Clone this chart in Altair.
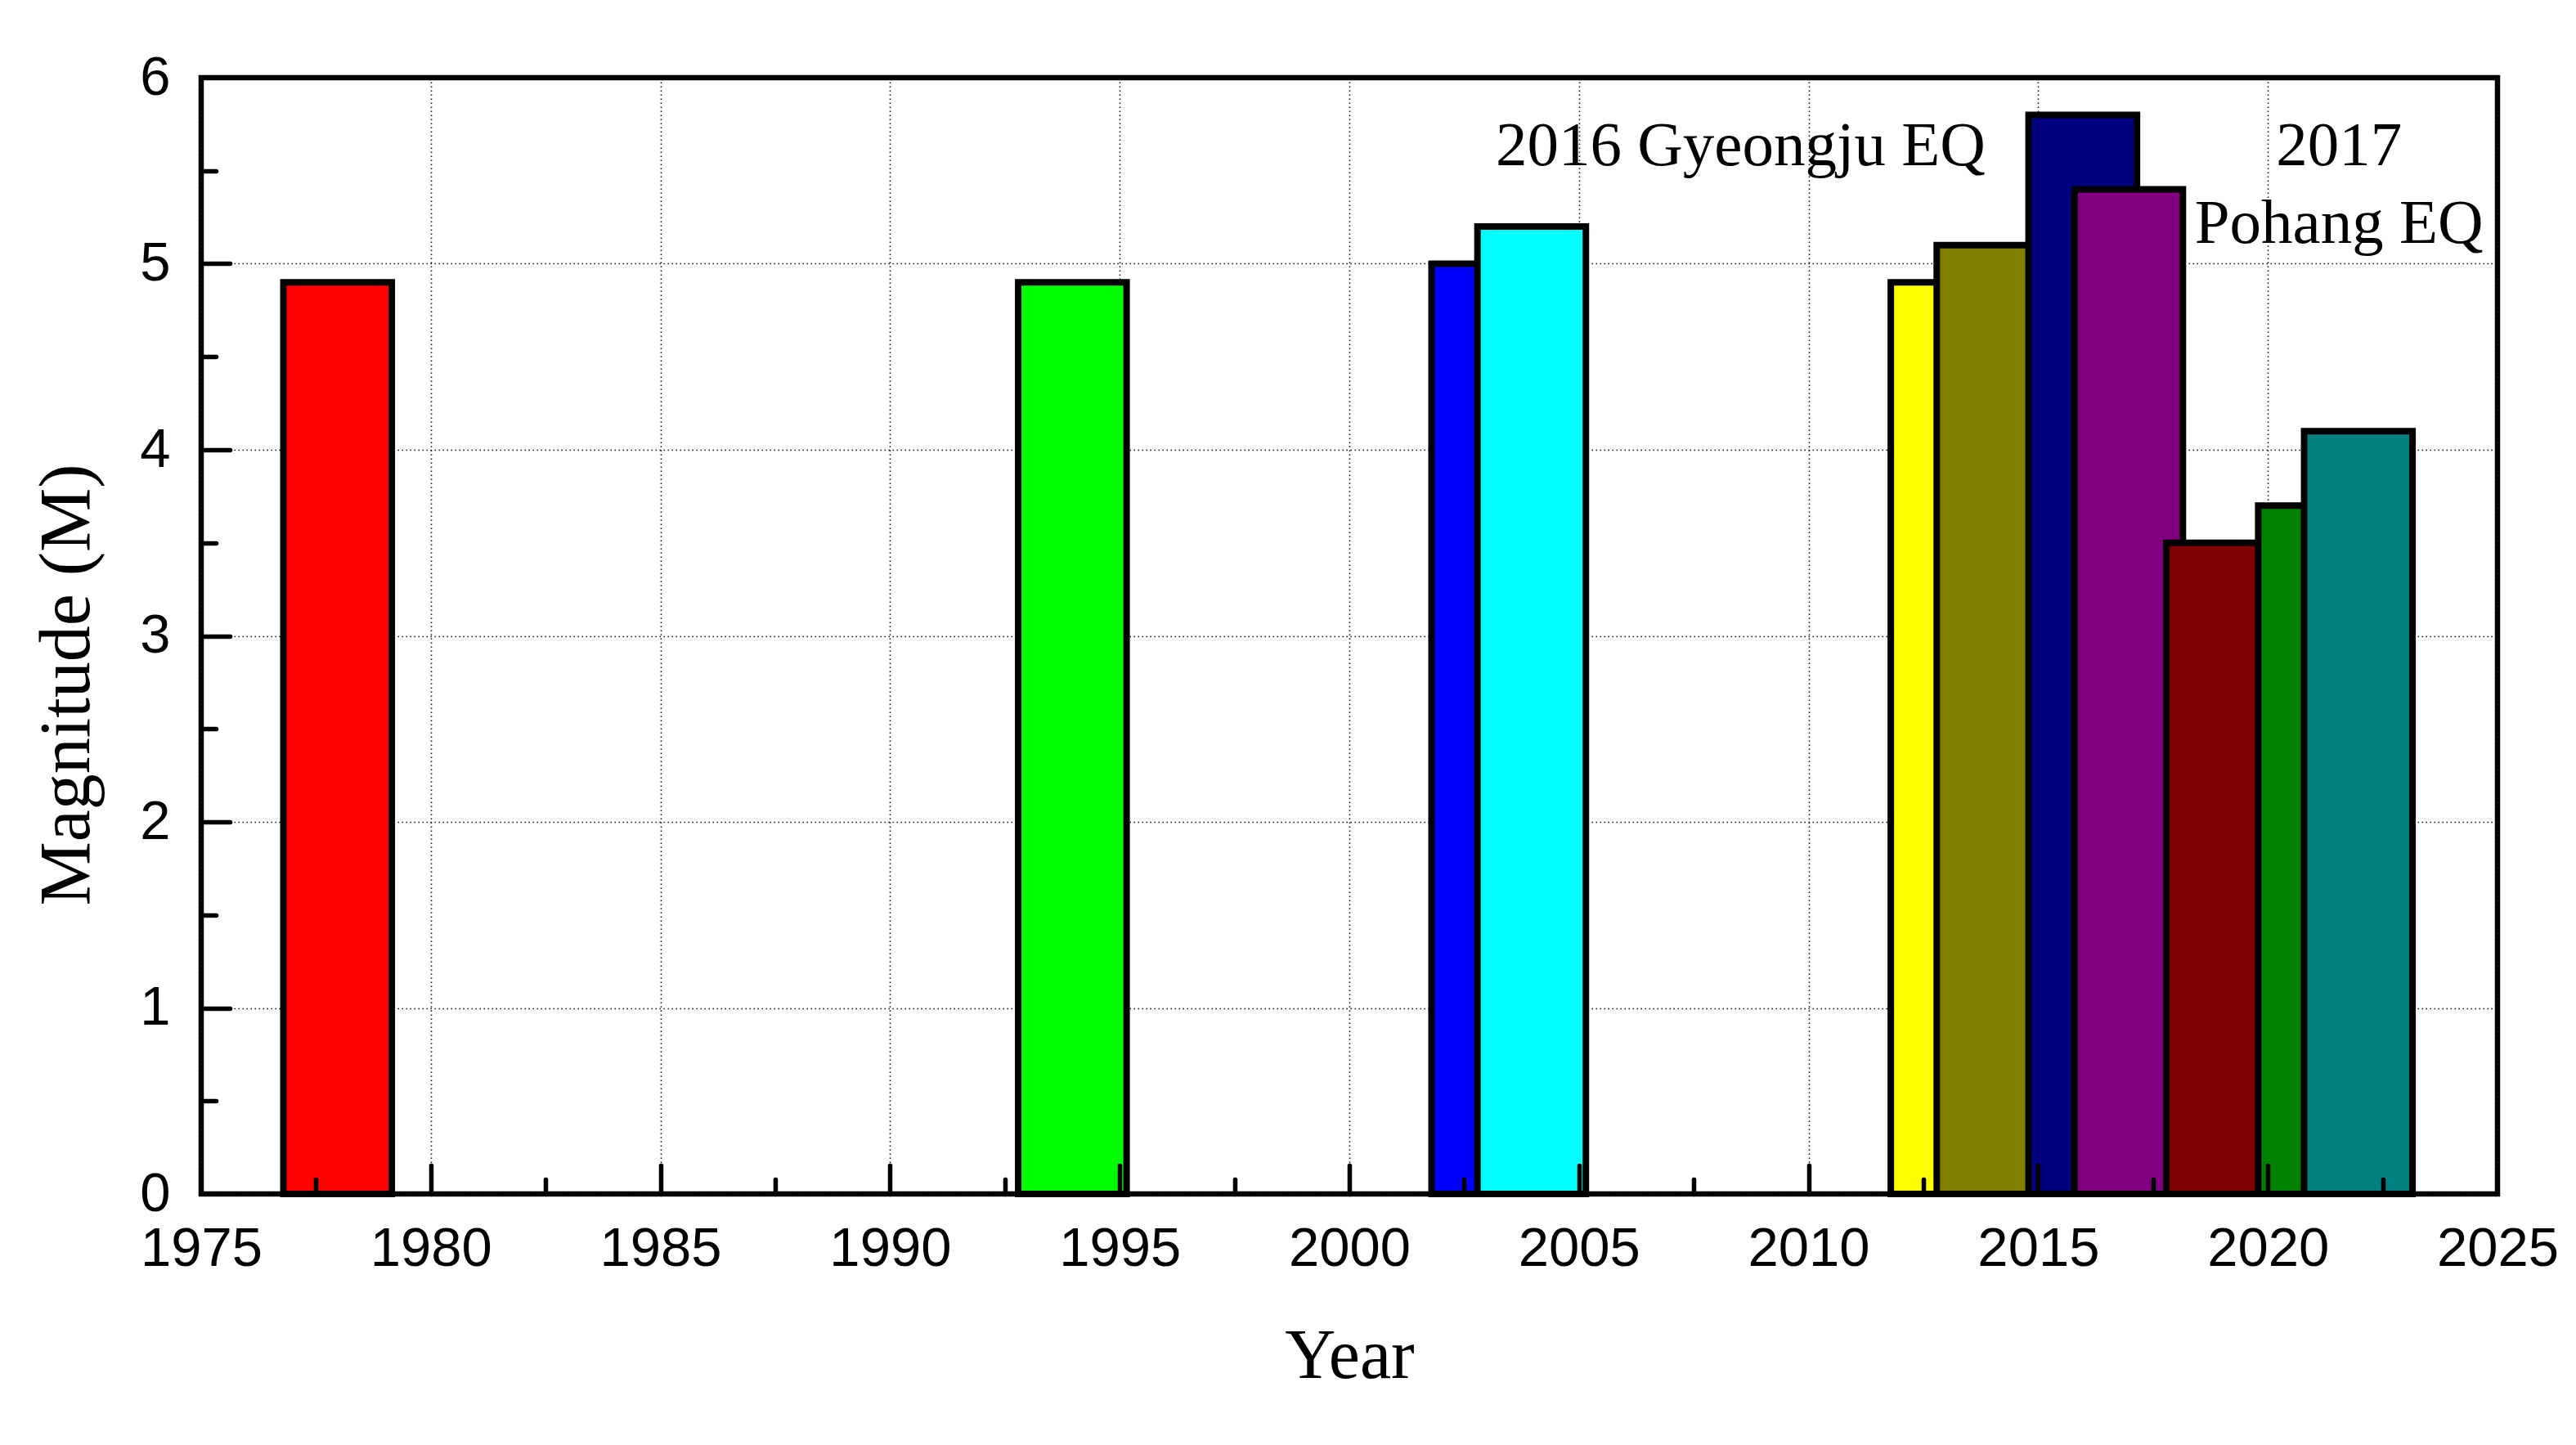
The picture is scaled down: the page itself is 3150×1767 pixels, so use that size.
import altair as alt
import pandas as pd

# ---- data ----
years = [1978, 1994, 2003, 2004, 2013, 2014, 2016, 2017, 2019, 2021, 2022]
magnitudes = [4.9, 4.9, 5.0, 5.2, 4.9, 5.1, 5.8, 5.4, 3.5, 3.7, 4.1]
bar_colors = ["#FF0000", "#00FF00", "#0000FF", "#00FFFF", "#FFFF00", "#808000",
              "#000080", "#800080", "#800000", "#008000", "#008080"]

x_major = [1975, 1980, 1985, 1990, 1995, 2000, 2005, 2010, 2015, 2020, 2025]
x_major_ticks = [1980, 1985, 1990, 1995, 2000, 2005, 2010, 2015, 2020]
x_minor_ticks = [1977.5, 1982.5, 1987.5, 1992.5, 1997.5, 2002.5, 2007.5, 2012.5, 2017.5, 2022.5]
y_major = [0, 1, 2, 3, 4, 5, 6]
y_major_ticks = [1, 2, 3, 4, 5]
y_minor_ticks = [0.5, 1.5, 2.5, 3.5, 4.5, 5.5]

ann_text = ["2016 Gyeongju EQ", "2017", "Pohang EQ"]
ann_x = [2013.85, 2021.55, 2021.55]
ann_y = [5.53, 5.53, 5.11]
ann_align = ["right", "center", "center"]

bars = pd.DataFrame({"year": years, "mag": magnitudes,
                     "id": [f"b{i}" for i in range(len(years))]})
ann = pd.DataFrame({"text": ann_text, "x": ann_x, "y": ann_y, "align": ann_align})

W, H = 2808, 1365
xscale = alt.Scale(domain=[1975, 2025], nice=False, zero=False)
yscale = alt.Scale(domain=[0, 6], nice=False)

SANS = "Liberation Sans"
SERIF = "Liberation Serif"

label_x_axis = alt.Axis(orient="bottom", values=x_major, format="d", ticks=False, domain=False,
                        grid=True, gridDash=[1.5, 3.5], gridColor="#111", gridWidth=1.6,
                        labelFont=SANS, labelFontSize=67, labelColor="black", labelPadding=34,
                        labelFlush=False, labelOverlap=False,
                        title="Year", titleFont=SERIF, titleFontSize=86, titleFontWeight="normal",
                        titleColor="black", titleBaseline="alphabetic", titleY=224, zindex=0)
label_y_axis = alt.Axis(orient="left", values=y_major, format="d", ticks=False, domain=False,
                        grid=True, gridDash=[1.5, 3.5], gridColor="#111", gridWidth=1.6,
                        labelFont=SANS, labelFontSize=67, labelColor="black", labelPadding=38,
                        labelFlush=False, labelOverlap=False,
                        title="Magnitude (M)", titleFont=SERIF, titleFontSize=88,
                        titleFontWeight="normal", titleColor="black", titleBaseline="alphabetic",
                        titleAngle=270, titleAlign="center", titleX=-138, titleY=742, zindex=0)


def tick_axis(orient, values, size):
    return alt.Axis(orient=orient, values=values, ticks=True, labels=False, domain=False,
                    grid=False, title=None, tickSize=alt.ExprRef(expr=str(-size)),
                    tickWidth=5.5, tickColor="black", tickCap="round", zindex=1)


bar_layer = alt.Chart(bars).transform_calculate(
    x0="datum.year - 1.21", x1="datum.year + 1.15", base="0"
).mark_rect(stroke="black", strokeWidth=8).encode(
    x=alt.X("x0:Q", scale=xscale, axis=label_x_axis),
    x2="x1:Q",
    y=alt.Y("mag:Q", scale=yscale, axis=label_y_axis),
    y2="base:Q",
    color=alt.Color("id:N", scale=alt.Scale(domain=list(bars["id"]), range=bar_colors), legend=None),
)

major_layer = alt.Chart(bars).mark_point(opacity=0).encode(
    x=alt.X("year:Q", scale=xscale, axis=tick_axis("bottom", x_major_ticks, 35)),
    y=alt.Y("mag:Q", scale=yscale, axis=tick_axis("left", y_major_ticks, 35)),
)

minor_layer = alt.Chart(bars).mark_point(opacity=0).encode(
    x=alt.X("year:Q", scale=xscale, axis=tick_axis("bottom", x_minor_ticks, 18)),
    y=alt.Y("mag:Q", scale=yscale, axis=tick_axis("left", y_minor_ticks, 18)),
)

text_right = alt.Chart(ann).transform_filter("datum.align == 'right'").mark_text(
    font=SERIF, fontSize=77, color="black", align="right", baseline="alphabetic"
).encode(
    x=alt.X("x:Q", scale=xscale, axis=None),
    y=alt.Y("y:Q", scale=yscale, axis=None),
    text="text:N",
)
text_center = alt.Chart(ann).transform_filter("datum.align == 'center'").mark_text(
    font=SERIF, fontSize=77, color="black", align="center", baseline="alphabetic"
).encode(
    x=alt.X("x:Q", scale=xscale, axis=None),
    y=alt.Y("y:Q", scale=yscale, axis=None),
    text="text:N",
)

chart = alt.layer(bar_layer, major_layer, minor_layer, text_right, text_center).resolve_axis(
    x="independent", y="independent"
).properties(
    width=W, height=H,
    autosize=alt.AutoSizeParams(type="none"),
    padding={"left": 238, "top": 87, "right": 85, "bottom": 290},
    background="white",
).configure_view(stroke="black", strokeWidth=6.5)

chart.save("out.html", embed_options={"renderer": "svg", "actions": False})
